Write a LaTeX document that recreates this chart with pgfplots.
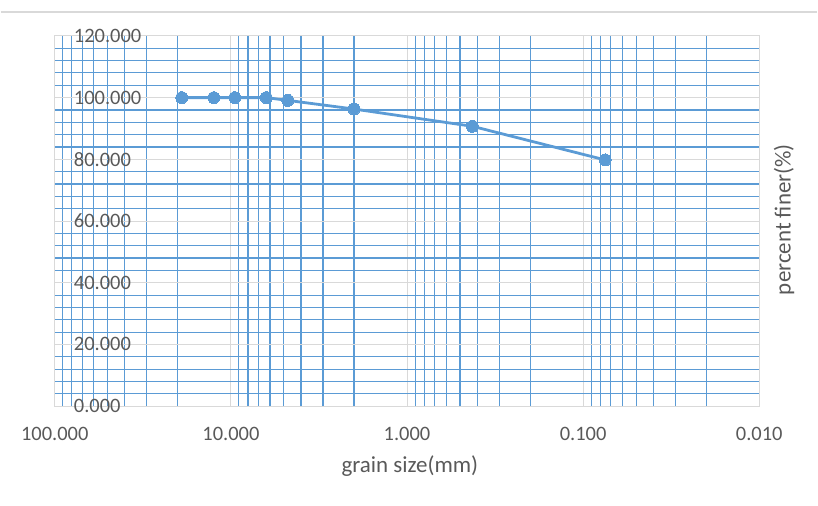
\documentclass[border=0pt]{standalone}
\usepackage{fontspec}
\setmainfont{Carlito}
\usepackage{pgfplots}
\pgfplotsset{compat=1.18}
\definecolor{serieblue}{HTML}{5B9BD5}
\definecolor{gridgray}{HTML}{D9D9D9}
\definecolor{textgray}{HTML}{595959}
\begin{document}
\begin{tikzpicture}
\path (-54pt,-100pt) rectangle (764pt,407pt);
\draw[gridgray, line width=1.8pt] (-54pt,395pt) -- (764pt,395pt);
\begin{axis}[
  at={(0,0)}, anchor=south west,
  scale only axis, width=706pt, height=371pt,
  xmode=log, x dir=reverse,
  xmin=0.01, xmax=100, ymin=0, ymax=120,
  xtick={100,10,1,0.1,0.01},
  xticklabels={100.000,10.000,1.000,0.100,0.010},
  minor xtick={0.02,0.03,0.04,0.05,0.06,0.07,0.08,0.09,
               0.2,0.3,0.4,0.5,0.6,0.7,0.8,0.9,
               2,3,4,5,6,7,8,9,
               20,30,40,50,60,70,80,90},
  ytick={0,20,40,60,80,100,120},
  yticklabels={0.000,20.000,40.000,60.000,80.000,100.000,120.000},
  minor ytick={4,8,12,16,24,28,32,36,44,48,52,56,64,68,72,76,84,88,92,96,104,108,112,116},
  major tick length=0pt, minor tick length=0pt,
  grid=both,
  major grid style={gridgray, line width=1pt},
  minor grid style={serieblue, line width=1.1pt},
  axis line style={gridgray, line width=1pt},
  /pgf/number format/assume math mode=true,
  tick label style={font=\fontsize{20.5}{24}\selectfont, text=textgray, inner sep=0pt},
  xticklabel style={anchor=center, yshift=-28pt},
  yticklabel style={anchor=west, xshift=19pt},
  label style={font=\fontsize{23}{27}\selectfont, text=textgray},
  xlabel={grain size(mm)},
  ylabel={percent finer(\%)},
  xlabel style={at={(axis description cs:0.504,-0.1617)}, anchor=center},
  ylabel style={at={(axis description cs:1.0354,0.504)}, anchor=center},
  clip=false,
]
\addplot[serieblue, line width=2.8pt, mark=*, mark size=6pt, mark options={fill=serieblue, draw=serieblue, line width=0pt}]
coordinates {
(19.0,100.0)
(12.5,100.0)
(9.5,100.0)
(6.3,100.0)
(4.75,99.1)
(2.0,96.3)
(0.425,90.7)
(0.075,79.8)
};
\end{axis}
\end{tikzpicture}
\end{document}
